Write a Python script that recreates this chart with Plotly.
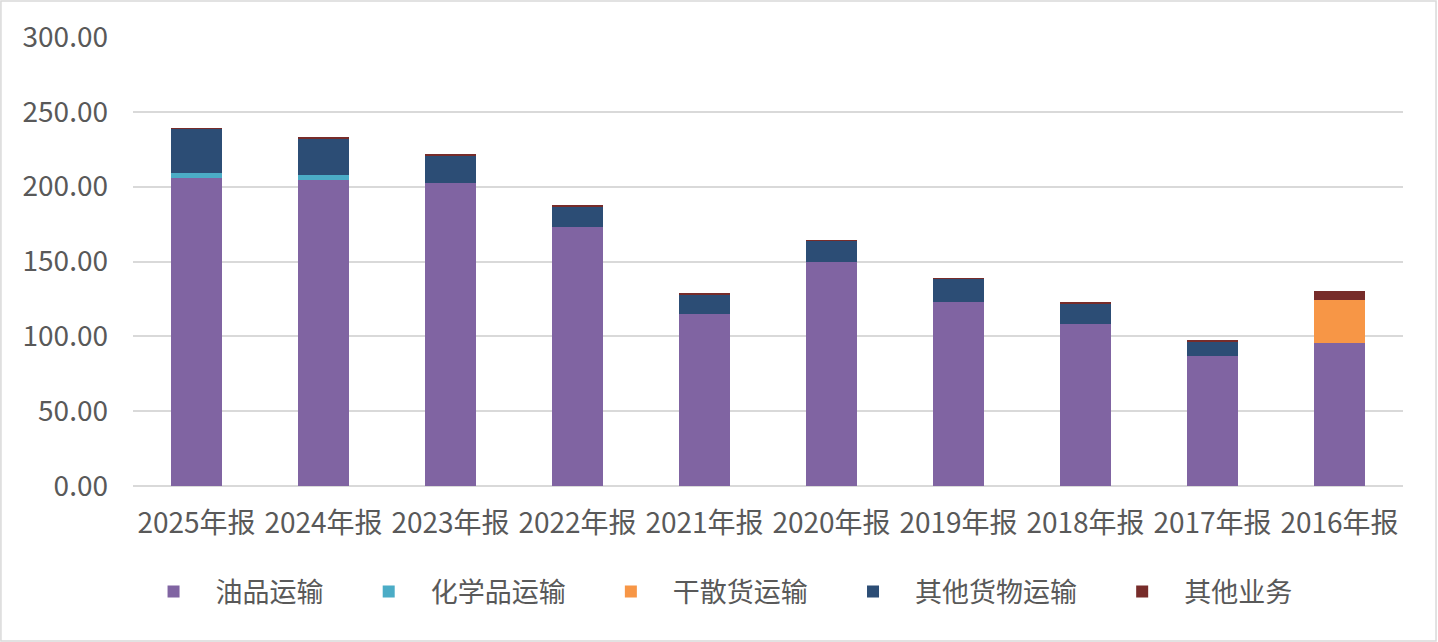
import plotly.graph_objects as go

years = ["2025年报", "2024年报", "2023年报", "2022年报", "2021年报",
         "2020年报", "2019年报", "2018年报", "2017年报", "2016年报"]

oil = [205.6, 204.4, 202.4, 172.8, 114.7, 149.4, 123.2, 108.2, 87.1, 95.3]
chemical = [3.7, 3.2, 0, 0, 0, 0, 0, 0, 0, 0]
dry_bulk = [0, 0, 0, 0, 0, 0, 0, 0, 0, 29.0]
other_cargo = [29.4, 24.9, 18.6, 14.0, 13.4, 14.3, 15.4, 13.8, 8.9, 0]
other_biz = [0.4, 0.3, 0.2, 0.6, 0.3, 0.3, 0.3, 1.1, 1.4, 6.0]

series = [
    ("油品运输", oil, "#8064A2"),
    ("化学品运输", chemical, "#4BACC6"),
    ("干散货运输", dry_bulk, "#F79646"),
    ("其他货物运输", other_cargo, "#2C4D75"),
    ("其他业务", other_biz, "#772C2A"),
]

pad = "\u00a0" * 3
fig = go.Figure()
for name, vals, col in series:
    fig.add_trace(go.Bar(x=years, y=vals, name=name + pad, marker_color=col,
                         marker_line_width=0))

fig.update_layout(
    barmode="stack",
    bargap=0.6,
    width=1438, height=642,
    margin=dict(l=133, r=35, t=37, b=156),
    plot_bgcolor="white",
    paper_bgcolor="white",
    font=dict(family="Noto Sans CJK SC, sans-serif", size=26, color="#595959"),
    legend=dict(orientation="h", x=0.465, xanchor="center", y=-0.236, yanchor="middle",
                font=dict(size=27, color="#595959"), itemwidth=74,
                traceorder="normal"),
    shapes=[dict(type="rect", xref="paper", yref="paper", x0=-0.104, x1=1.026,
                 y0=-0.345, y1=1.08, line=dict(color="#D9D9D9", width=1.5))],
)
fig.update_xaxes(showline=False, ticks="", tickfont=dict(size=28),
                 ticklabelstandoff=18)
fig.update_yaxes(range=[0, 300], dtick=50, tickformat=".2f", gridcolor="#D9D9D9",
                 gridwidth=1.5, zeroline=True, zerolinecolor="#D9D9D9",
                 zerolinewidth=1.5, tickfont=dict(size=28), ticklabelstandoff=24)

fig.write_html("out.html", config={"displayModeBar": False},
               post_script="document.body.style.margin='0';document.body.style.overflow='hidden';")
